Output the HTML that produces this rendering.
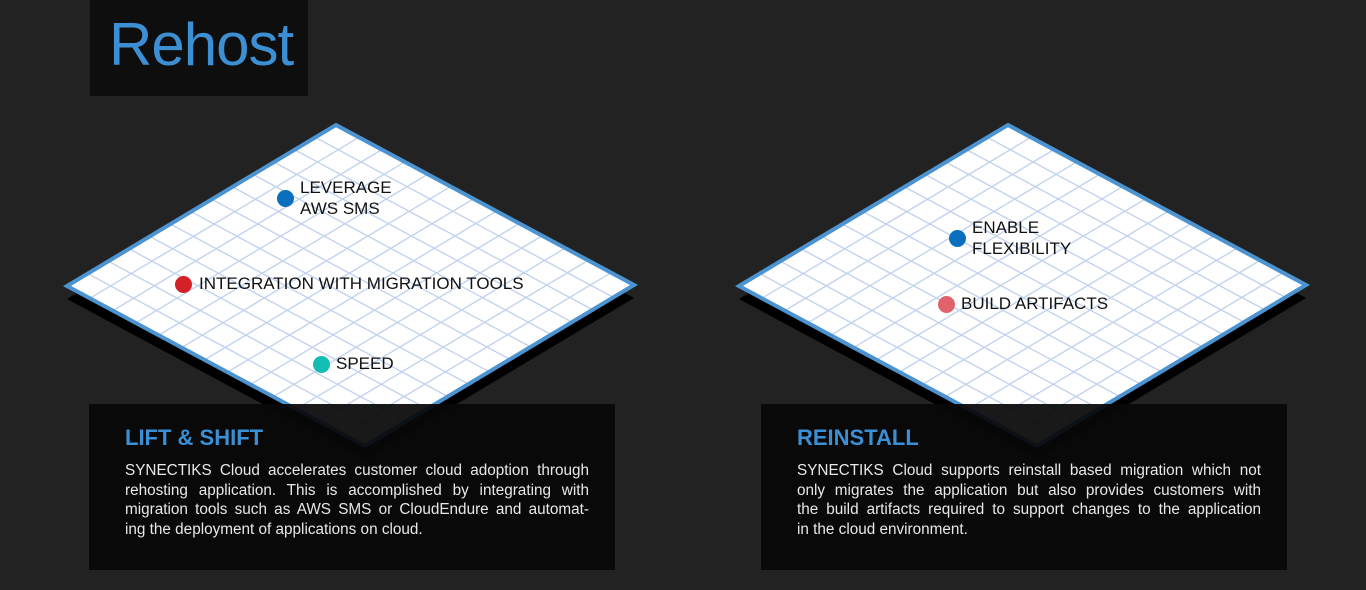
<!DOCTYPE html>
<html><head><meta charset="utf-8"><style>
html,body{margin:0;padding:0;background:#222222;width:1366px;height:590px;overflow:hidden;font-family:"Liberation Sans",sans-serif}
svg{position:absolute;left:0;top:0}
.box{position:absolute;background:rgba(8,8,9,0.93);width:526px;height:166px;top:404px}
.box h2{margin:0;position:absolute;left:36px;top:21px;color:#3b8fd4;font-size:22px;font-weight:bold}
.box .p{position:absolute;left:36px;top:57px;width:464px;color:#e8e8e8;font-size:15.3px;line-height:19.5px}
.box .p div{text-align:justify;text-align-last:justify;white-space:nowrap}
.box .p div.l{text-align-last:left}
.lbl{position:absolute;font-size:17px;color:#111;line-height:21px}
.dot{position:absolute;width:17px;height:17px;border-radius:50%}
</style></head><body>
<div style="position:absolute;left:90px;top:0;width:218px;height:96px;background:#0e0e0e"></div>
<div style="position:absolute;left:109px;top:10px;color:#3d8fd4;font-size:60px;font-weight:300;letter-spacing:-1px">Rehost</div>
<svg id="s" width="1366" height="590"></svg>
<div class="dot" style="left:277px;top:190px;background:#0a6fbd"></div>
<div class="lbl" style="left:300px;top:177px">LEVERAGE<br>AWS SMS</div>
<div class="dot" style="left:175px;top:276px;background:#d42027"></div>
<div class="lbl" style="left:199px;top:273px">INTEGRATION WITH MIGRATION TOOLS</div>
<div class="dot" style="left:313px;top:356px;background:#13bdb5"></div>
<div class="lbl" style="left:336px;top:353px">SPEED</div>
<div class="dot" style="left:949px;top:230px;background:#0a6fbd"></div>
<div class="lbl" style="left:972px;top:217px">ENABLE<br>FLEXIBILITY</div>
<div class="dot" style="left:938px;top:296px;background:#e0636b"></div>
<div class="lbl" style="left:961px;top:293px">BUILD ARTIFACTS</div>
<div class="box" style="left:89px"><h2>LIFT &amp; SHIFT</h2><div class="p">
<div>SYNECTIKS Cloud accelerates customer cloud adoption through</div>
<div>rehosting application. This is accomplished by integrating with</div>
<div>migration tools such as AWS SMS or CloudEndure and automat-</div>
<div class="l">ing the deployment of applications on cloud.</div></div></div>
<div class="box" style="left:761px"><h2>REINSTALL</h2><div class="p">
<div>SYNECTIKS Cloud supports reinstall based migration which not</div>
<div>only migrates the application but also provides customers with</div>
<div>the build artifacts required to support changes to the application</div>
<div class="l">in the cloud environment.</div></div></div>
<script>
var s=document.getElementById('s'),h='';
function D(cx,ty){var T=[cx,ty],R=[cx+298,ty+160],L=[cx-269,ty+161],B=[cx+29,ty+321];
 function sh(p){return (p[0])+','+(p[1]+13);}
 var pts=T+' '+R+' '+B+' '+L;
 h+='<polygon points="'+sh(T)+' '+sh(R)+' '+sh(B)+' '+sh(L)+'" fill="#000"/>';
 h+='<polygon points="'+pts+'" fill="#fff"/>';
 var N=13;
 for(var i=1;i<N;i++){var u=i/N;
  var a=[T[0]+u*(R[0]-T[0]),T[1]+u*(R[1]-T[1])],b=[L[0]+u*(B[0]-L[0]),L[1]+u*(B[1]-L[1])];
  h+='<line x1="'+a[0]+'" y1="'+a[1]+'" x2="'+b[0]+'" y2="'+b[1]+'" stroke="#c3d3ee" stroke-width="1.4"/>';
  a=[T[0]+u*(L[0]-T[0]),T[1]+u*(L[1]-T[1])];b=[R[0]+u*(B[0]-R[0]),R[1]+u*(B[1]-R[1])];
  h+='<line x1="'+a[0]+'" y1="'+a[1]+'" x2="'+b[0]+'" y2="'+b[1]+'" stroke="#c3d3ee" stroke-width="1.4"/>';}
 h+='<polygon points="'+pts+'" fill="none" stroke="#4b93d1" stroke-width="4" stroke-linejoin="miter"/>';}
D(336,125);D(1008,125);
s.innerHTML=h;
</script>
</body></html>
